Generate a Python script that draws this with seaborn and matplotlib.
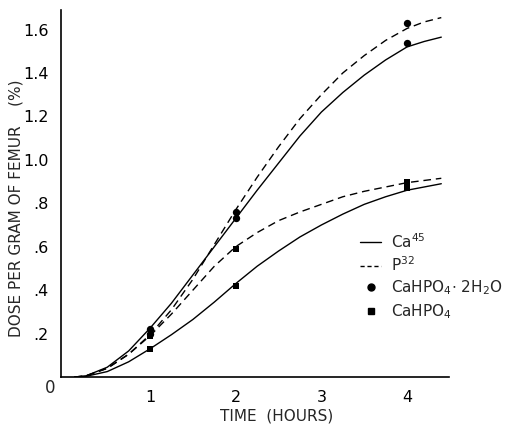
import matplotlib
matplotlib.use("Agg")
import matplotlib.pyplot as plt
from matplotlib.lines import Line2D
import numpy as np
import pandas as pd
import seaborn as sns

# Measured uptake (dose per gram of femur, %) at each sampling time
sample_hours = [1, 2, 4]
dihydrate_ca45 = [0.22, 0.73, 1.54]
dihydrate_p32 = [0.20, 0.76, 1.63]
anhydrous_ca45 = [0.13, 0.42, 0.87]
anhydrous_p32 = [0.19, 0.59, 0.90]

# Hand-fitted smooth curves through the measurements
curve_hours = [0.12, 0.25, 0.5, 0.75, 1.0, 1.25, 1.5, 1.75, 2.0, 2.25,
               2.5, 2.75, 3.0, 3.25, 3.5, 3.75, 4.0, 4.2, 4.4]
curve_dihydrate_ca45 = [0.0, 0.005, 0.045, 0.12, 0.225, 0.34, 0.47, 0.60, 0.73, 0.86,
                        0.985, 1.11, 1.22, 1.31, 1.39, 1.46, 1.52, 1.545, 1.565]
curve_dihydrate_p32 = [0.0, 0.005, 0.04, 0.105, 0.195, 0.31, 0.45, 0.61, 0.77, 0.92,
                       1.06, 1.19, 1.30, 1.40, 1.48, 1.55, 1.605, 1.635, 1.655]
curve_anhydrous_p32 = [0.0, 0.005, 0.04, 0.105, 0.19, 0.29, 0.40, 0.51, 0.60, 0.665,
                       0.72, 0.76, 0.795, 0.83, 0.855, 0.875, 0.895, 0.905, 0.915]
curve_anhydrous_ca45 = [0.0, 0.003, 0.025, 0.07, 0.13, 0.195, 0.265, 0.345, 0.43, 0.51,
                        0.58, 0.645, 0.70, 0.75, 0.795, 0.83, 0.86, 0.875, 0.89]

y_ticks = [0.2, 0.4, 0.6, 0.8, 1.0, 1.2, 1.4, 1.6]
y_tick_labels = [".2", ".4", ".6", ".8", "1.0", "1.2", "1.4", "1.6"]
x_ticks = [1, 2, 3, 4]
x_tick_labels = ["1", "2", "3", "4"]

curves = pd.concat([
    pd.DataFrame({"hours": curve_hours, "dose": curve_dihydrate_ca45,
                  "curve": "dihydrate Ca45", "tracer": "Ca45"}),
    pd.DataFrame({"hours": curve_hours, "dose": curve_dihydrate_p32,
                  "curve": "dihydrate P32", "tracer": "P32"}),
    pd.DataFrame({"hours": curve_hours, "dose": curve_anhydrous_ca45,
                  "curve": "anhydrous Ca45", "tracer": "Ca45"}),
    pd.DataFrame({"hours": curve_hours, "dose": curve_anhydrous_p32,
                  "curve": "anhydrous P32", "tracer": "P32"}),
], ignore_index=True)

dihydrate_pts = pd.DataFrame({"hours": sample_hours * 2,
                              "dose": dihydrate_ca45 + dihydrate_p32})
anhydrous_pts = pd.DataFrame({"hours": sample_hours * 2,
                              "dose": anhydrous_ca45 + anhydrous_p32})

sns.set_style("white")
plt.rcParams["font.family"] = ["DejaVu Sans"]

fig = plt.figure(figsize=(5.12, 4.24), dpi=100)
ax = fig.add_axes([61 / 512, 47 / 424, 388 / 512, 367 / 424])

dash_map = {"Ca45": "", "P32": (5.5, 3.5)}
sns.lineplot(data=curves, x="hours", y="dose", units="curve", style="tracer",
             dashes=dash_map, estimator=None, sort=False, color="black",
             linewidth=1.0, legend=False, ax=ax)

sns.scatterplot(data=dihydrate_pts, x="hours", y="dose", marker="o", s=28,
                color="black", edgecolor="black", linewidth=0, legend=False,
                ax=ax, zorder=3)
sns.scatterplot(data=anhydrous_pts, x="hours", y="dose", marker="s", s=22,
                color="black", edgecolor="black", linewidth=0, legend=False,
                ax=ax, zorder=3)

ax.set_xlim(-0.04, 4.49)
ax.set_ylim(0, 1.69)
sns.despine(ax=ax)
for side in ("left", "bottom"):
    ax.spines[side].set_linewidth(1.2)
    ax.spines[side].set_color("black")

ax.set_xticks(x_ticks)
ax.set_xticklabels(x_tick_labels)
ax.set_yticks(y_ticks)
ax.set_yticklabels(y_tick_labels)
ax.tick_params(axis="both", direction="in", length=4, width=1.0,
               colors="black", labelsize=11.5)
ax.tick_params(axis="x", pad=9)
ax.tick_params(axis="y", pad=9)

ax.set_xlabel("TIME  (HOURS)", fontsize=11)
ax.xaxis.set_label_coords(0.557, -0.085)
ax.set_ylabel("DOSE PER GRAM OF FEMUR    (%)", fontsize=11)
ax.yaxis.set_label_coords(-0.097, 0.46)

ax.text(-0.028, -0.03, "0", transform=ax.transAxes, ha="center", va="center",
        fontsize=12)

handles = [
    Line2D([], [], color="black", lw=1.0),
    Line2D([], [], color="black", lw=1.0, dashes=(3, 2)),
    Line2D([], [], color="black", lw=0, marker="o", markersize=5),
    Line2D([], [], color="black", lw=0, marker="s", markersize=4.5),
]
labels = ["Ca$^{45}$", "P$^{32}$", "CaHPO$_4$$\\cdot$ 2H$_2$O", "CaHPO$_4$"]
ax.legend(handles, labels, loc="upper left", frameon=False, fontsize=11,
          bbox_to_anchor=(360 / 512, 1 - 232 / 424), bbox_transform=fig.transFigure,
          borderpad=0, borderaxespad=0, handlelength=1.4, handletextpad=0.6,
          labelspacing=0.3)

fig.savefig("out.png", dpi=100)
